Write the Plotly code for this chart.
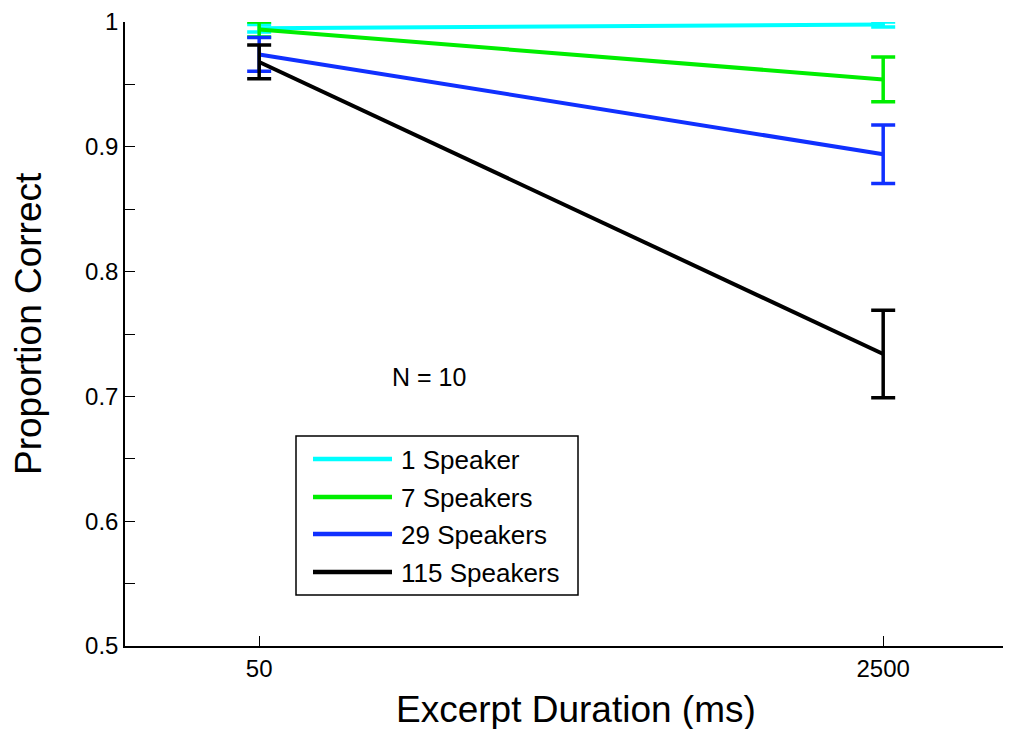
import plotly.graph_objects as go

durations = ["50", "2500"]
series_names = ["1 Speaker", "7 Speakers", "29 Speakers", "115 Speakers"]
series_colors = ["#00FFFF", "#00EE00", "#1030FF", "#000000"]
means = [
    [0.995, 0.998],
    [0.994, 0.954],
    [0.974, 0.894],
    [0.968, 0.734],
]
errors = [
    [0.003, 0.002],
    [0.006, 0.018],
    [0.0135, 0.0235],
    [0.0135, 0.035],
]

# the page adds an 8px body margin; size the figure to the visible area
OFF = 8
W, H = 1011 - OFF, 729 - OFF
L, R, T, B = 125 - OFF, 3, 22 - OFF, 729 - 646
pw, ph = W - L - R, H - T - B

def px(x):
    return (x - OFF - L) / pw

def py(y):
    return (H - B - (y - OFF)) / ph

fig = go.Figure()
for name, color, m, e in zip(series_names, series_colors, means, errors):
    fig.add_trace(go.Scatter(
        x=durations, y=m, mode="lines", name=name,
        line=dict(color=color, width=4),
        error_y=dict(type="data", array=e, visible=True, color=color, thickness=3.5, width=12),
        cliponaxis=False, showlegend=False,
    ))

FONT = "Liberation Sans"

# manual legend, matching the reference box
shapes = [dict(type="rect", xref="paper", yref="paper",
               x0=px(296), x1=px(578), y0=py(595), y1=py(436),
               line=dict(color="black", width=1.5), fillcolor="white", layer="above")]
annotations = []
row_y = [459, 497, 534, 572]
for name, color, yy in zip(series_names, series_colors, row_y):
    shapes.append(dict(type="line", xref="paper", yref="paper",
                       x0=px(313), x1=px(392), y0=py(yy), y1=py(yy),
                       line=dict(color=color, width=4.5), layer="above"))
    annotations.append(dict(xref="paper", yref="paper", x=px(399), y=py(yy + 1),
                            text=name, showarrow=False, xanchor="left", yanchor="middle",
                            font=dict(size=26, color="black", family=FONT)))

annotations.append(dict(xref="paper", yref="paper", x=px(429), y=py(377),
                        text="N = 10", showarrow=False, xanchor="center", yanchor="middle",
                        font=dict(size=25, color="black", family=FONT)))

# axis titles
annotations.append(dict(xref="paper", yref="paper", x=px(576), y=py(709),
                        text="Excerpt Duration (ms)", showarrow=False, xanchor="center", yanchor="middle",
                        font=dict(size=37, color="black", family=FONT)))
annotations.append(dict(xref="paper", yref="paper", x=px(29), y=py(324),
                        text="Proportion Correct", showarrow=False, xanchor="center", yanchor="middle",
                        textangle=-90,
                        font=dict(size=37, color="black", family=FONT)))

fig.update_layout(
    width=W, height=H,
    margin=dict(l=L, r=R, t=T, b=B),
    plot_bgcolor="white", paper_bgcolor="white",
    font=dict(family=FONT, color="black"),
    shapes=shapes, annotations=annotations,
    xaxis=dict(
        type="category", range=[-0.215, 1.2],
        showline=True, linecolor="black", linewidth=1.5,
        ticks="inside", ticklen=10, tickcolor="black",
        showgrid=False, zeroline=False, automargin=False,
        tickfont=dict(size=24), ticklabeloverflow="allow",
    ),
    yaxis=dict(
        range=[0.5, 1.0],
        tickvals=[0.5, 0.6, 0.7, 0.8, 0.9, 1.0],
        ticktext=["0.5", "0.6", "0.7", "0.8", "0.9", "1"],
        showline=True, linecolor="black", linewidth=1.5,
        ticks="inside", ticklen=10, tickcolor="black",
        minor=dict(tickvals=[0.55, 0.65, 0.75, 0.85, 0.95], ticks="inside", ticklen=10, tickcolor="black"),
        showgrid=False, zeroline=False, automargin=False,
        tickfont=dict(size=24), ticklabeloverflow="allow",
    ),
)

fig.write_html("out.html")
